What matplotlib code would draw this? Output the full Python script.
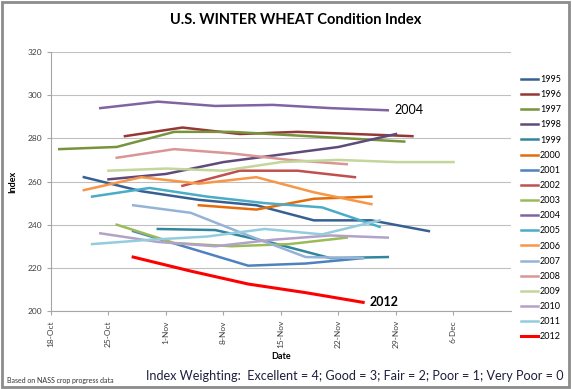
import pandas as pd
import matplotlib.pyplot as plt
from matplotlib.patches import Rectangle

plt.rcParams['font.family'] = ['Lato', 'DejaVu Sans']

# weekly condition index, first reporting week (month-day) for each year
years = [1995, 1996, 1997, 1998, 1999, 2000, 2001, 2002, 2003,
         2004, 2005, 2006, 2007, 2008, 2009, 2010, 2011, 2012]
start_days = ["10-22", "10-27", "10-19", "10-25", "10-31", "11-05", "10-28", "11-03", "10-26",
              "10-24", "10-23", "10-22", "10-28", "10-26", "10-25", "10-24", "10-23", "10-28"]

idx_1995 = [262, 255.5, 251.5, 249, 242, 242, 237]
idx_1996 = [281, 285, 282, 283, 282, 281]
idx_1997 = [275, 276, 283, 283, 281.5, 280, 278.5]
idx_1998 = [261, 263.5, 269, 272.5, 276, 282]
idx_1999 = [238, 237.5, 231.5, 224.5, 225]
idx_2000 = [249, 247, 252, 253]
idx_2001 = [237, 229, 221, 222, 224.5]
idx_2002 = [258, 265, 265, 262]
idx_2003 = [240, 231.5, 230, 231, 234]
idx_2004 = [294, 297, 295, 295.5, 294, 293]
idx_2005 = [253, 257, 253, 250, 248, 239]
idx_2006 = [256, 262, 259, 262, 255, 249.5]
idx_2007 = [249, 245.5, 235, 225, 224.5]
idx_2008 = [271, 275, 273, 270, 268]
idx_2009 = [265, 266, 265, 269, 270, 269, 269]
idx_2010 = [236, 232, 230, 233, 235, 234]
idx_2011 = [231, 233, 234.5, 238, 235.5, 242]
idx_2012 = [225, 218.5, 212.5, 208.5, 204]

tick_labels = ["18-Oct", "25-Oct", "1-Nov", "8-Nov", "15-Nov", "22-Nov", "29-Nov", "6-Dec"]

series = [idx_1995, idx_1996, idx_1997, idx_1998, idx_1999, idx_2000, idx_2001, idx_2002, idx_2003,
          idx_2004, idx_2005, idx_2006, idx_2007, idx_2008, idx_2009, idx_2010, idx_2011, idx_2012]
colors = ["#376092", "#953735", "#77933C", "#604A7B", "#31859C", "#E46C0A",
          "#4F81BD", "#C0504D", "#9BBB59", "#8064A2", "#4BACC6", "#F79646",
          "#95B3D7", "#D99694", "#C3D69B", "#B3A2C7", "#93CDDD", "#FF0000"]

fig = plt.figure(figsize=(5.72, 3.89), dpi=100)
ax = fig.add_axes([51 / 572, 1 - 311 / 389, 460 / 572, 259 / 389])

lines = {}
for yr, start, vals, col in zip(years, start_days, series, colors):
    x = pd.date_range(pd.Timestamp(f"2012-{start}"), periods=len(vals), freq="7D")
    lw = 2.2 if yr == 2012 else 1.8
    lines[yr], = ax.plot(x, vals, color=col, lw=lw, label=str(yr))

# labels at the end of the highlighted years
for yr, weight in [(2004, "normal"), (2012, "bold")]:
    ln = lines[yr]
    ax.annotate(str(yr), (ln.get_xdata()[-1], ln.get_ydata()[-1]), xytext=(5, 0),
                textcoords="offset points", va="center", ha="left",
                fontsize=9, fontweight=weight, color="black")

ax.set_ylim(200, 320)
ax.set_yticks(range(200, 321, 20))
ax.set_xlim(pd.Timestamp("2012-10-18"), pd.Timestamp("2012-12-13"))
ticks = pd.date_range("2012-10-18", periods=len(tick_labels), freq="7D")
ax.set_xticks(ticks)
ax.set_xticklabels(tick_labels, rotation=90)

ax.grid(axis="y", color="#C0C0C0", lw=0.8)
ax.set_axisbelow(True)
for s in ["top", "right"]:
    ax.spines[s].set_visible(False)
for s in ["left", "bottom"]:
    ax.spines[s].set_color("#A6A6A6")
ax.tick_params(axis="both", labelsize=6, colors="#404040", length=3, width=0.8)
ax.tick_params(axis="both", color="#A6A6A6")

ax.set_ylabel("Index", fontsize=6.5, fontweight="bold")
ax.yaxis.set_label_coords(-(51 - 17) / 460, 0.5)
ax.set_xlabel("Date", fontsize=6.5, fontweight="bold")
ax.xaxis.set_label_coords(0.5, -(352 - 311) / 259)

fig.legend(handles=[lines[y] for y in years], loc="upper left",
           bbox_to_anchor=(521 / 572, 1 - 75 / 389), frameon=False,
           fontsize=6.5, handlelength=1.9, handletextpad=0.2,
           labelspacing=0.68, borderpad=0, borderaxespad=0)

fig.text(296 / 572, 1 - 20 / 389, "U.S. WINTER WHEAT Condition Index",
         ha="center", va="center", fontsize=10.5, fontweight="bold")
fig.text(7 / 572, 1 - 380 / 389, "Based on NASS crop progress data",
         ha="left", va="center", fontsize=5, color="#333333")
fig.text(563 / 572, 1 - 376 / 389,
         "Index Weighting:  Excellent = 4; Good = 3; Fair = 2; Poor = 1; Very Poor = 0",
         ha="right", va="center", fontsize=9.1, color="#1F1F3F")

fig.patches.append(Rectangle((0.004, 0.006), 0.99, 0.988, transform=fig.transFigure,
                             fill=False, edgecolor="#8C8C8C", lw=2))

fig.savefig("out.png", dpi=100)
